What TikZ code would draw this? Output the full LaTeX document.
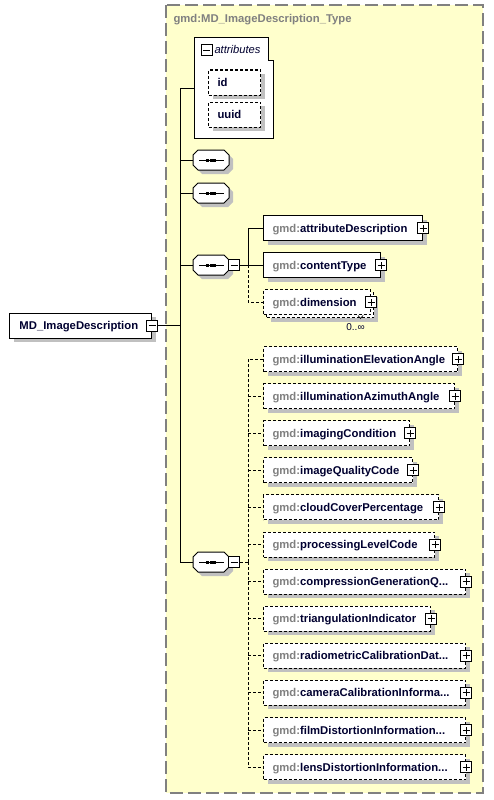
\documentclass[tikz,border=0pt]{standalone}
\usepackage{fontspec}
\setmainfont{Liberation Sans}
\usetikzlibrary{shadows}
\definecolor{bgy}{RGB}{255,255,204}
\definecolor{bordc}{RGB}{128,128,128}
\definecolor{shc}{RGB}{192,192,192}
\definecolor{namec}{RGB}{0,0,48}
\definecolor{prefc}{RGB}{128,128,128}
\newcommand\tx[2]{\makebox[#1pt][l]{\textcolor{prefc}{gmd:}#2}}
\newcommand\seqsym[1]{%
  \begin{scope}[shift={(#1.center)}]
    \fill[shc] (-14,-1) -- (-9,-6) -- (17,-6) -- (22,-1) -- (22,9) -- (17,14) -- (-9,14) -- (-14,9) -- cycle;
    \draw[fill=white] (-18,-5) -- (-13,-10) -- (13,-10) -- (18,-5) -- (18,5) -- (13,10) -- (-13,10) -- (-18,5) -- cycle;
    \draw (-12,0) -- (13,0);
    \fill (-5,-1.5) rectangle (-2,1.5);
    \fill (-1.5,-1.5) rectangle (1.5,1.5);
    \fill (2,-1.5) rectangle (5,1.5);
  \end{scope}}
\begin{document}
\begin{tikzpicture}[x=1pt,y=-1pt,line width=1pt,
  every node/.style={font=\fontsize{11.3}{13}\selectfont\bfseries, text=namec},
  shd/.style={drop shadow={shadow xshift=4pt, shadow yshift=-4pt, fill=shc, opacity=1}},
  dsh/.style={dash pattern=on 3pt off 2pt},
  boxbase/.style={draw, fill=white, minimum height=25pt, inner xsep=9pt, inner ysep=0pt, anchor=west, text height=8pt, text depth=0pt},
  elem/.style={boxbase, shd},
  opt/.style={elem, dsh},
  optns/.style={boxbase, dsh},
  pm/.style={draw, solid, fill=white, minimum size=11pt, inner sep=0pt, line width=1pt},
  plus/.style={pm, path picture={\draw[line width=1pt] ([xshift=-3.5pt]path picture bounding box.center) -- ([xshift=3.5pt]path picture bounding box.center) ([yshift=-3.5pt]path picture bounding box.center) -- ([yshift=3.5pt]path picture bounding box.center);}},
  minus/.style={pm, path picture={\draw[line width=1pt] ([xshift=-3.5pt]path picture bounding box.center) -- ([xshift=3.5pt]path picture bounding box.center);}},
  seqn/.style={minimum width=36pt, minimum height=20pt, inner sep=0pt}
]
\useasboundingbox (0,0) rectangle (493,800);
\fill[white] (0,0) rectangle (493,800);
% type frame
\draw[bordc, fill=bgy, line width=1.3pt, dash pattern=on 13pt off 5pt] (166,5) rectangle (483,793);
\node[anchor=west, text=prefc, inner sep=0pt, text height=8pt, text depth=0pt] (title) at (173,19) {gmd:MD\_ImageDescription\_Type};

% attributes group
\node[minimum width=78pt, minimum height=99pt, inner sep=0pt, anchor=north west] (attrs) at (194,38) {};
\draw[fill=white] (attrs.north west) -- ([xshift=-5pt]attrs.north east) -- ([xshift=-5pt,yshift=-23pt]attrs.north east) -- ([yshift=-23pt]attrs.north east) -- (attrs.south east) -- (attrs.south west) -- cycle;
\node[minus] (am) at (206.5,50.5) {};
\node[anchor=west, inner sep=0pt, font=\fontsize{11.2}{13}\selectfont\itshape, text height=8pt, text depth=0pt] (attrlbl) at (214,50) {attributes};
\node[opt, inner xsep=9pt] (aid) at (208,82.5) {\makebox[34pt][l]{id}};
\node[opt, inner xsep=9pt] (auuid) at (208,114.5) {\makebox[34pt][l]{uuid}};

% root
\node[elem, inner xsep=10pt] (root) at (9,325.5) {\makebox[122pt][l]{MD\_ImageDescription}};
\node[minus] (rm) at (root.east) {};

% sequences
\node[seqn] (s1) at (211,160) {};
\node[seqn] (s2) at (211,193) {};
\node[seqn] (s3) at (211,265) {};
\node[seqn] (s4) at (211,562) {};
\seqsym{s1}\seqsym{s2}\seqsym{s3}\seqsym{s4}
\node[minus] (m3) at (234,265) {};
\node[minus] (m4) at (234,562) {};

% spine
\coordinate (spA) at (180,88);
\draw (rm.east) -- (rm.east -| spA);
\draw (spA) -- (spA -| attrs.west);
\draw (spA) |- (s4.west);
\draw (s1.west) -- (s1.west -| spA);
\draw (s2.west) -- (s2.west -| spA);
\draw (s3.west) -- (s3.west -| spA);

% group 3 children
\node[elem] (c1) at (263,228) {\tx{141}{attributeDescription}};
\node[elem] (c2) at (263,265) {\tx{99}{contentType}};
\node[opt, minimum width=107pt] (c3b) at (266,305) {};
\node[optns] (c3) at (263,302) {\tx{89}{dimension}};
\node[plus] (c1p) at (c1.east) {};
\node[plus] (c2p) at (c2.east) {};
\node[plus] (c3p) at (c3.east) {};
\draw[line width=0.7pt] (358,315.5) -- (360.5,318.5) -- (363,315.5);
\node[font=\fontsize{10}{12}\selectfont, inner sep=0pt] (c3occ) at (355.5,327) {0..∞};
\coordinate (g3) at (248,265);
\draw (m3.east) -- (g3);
\draw (g3) |- (c1.west);
\draw (g3) -- (c2.west);
\draw[dsh] (g3) |- (c3.west);

% group 4 children
\node[opt] (d1) at (263,359) {\tx{176}{illuminationElevationAngle}};
\node[opt] (d2) at (263,396.1) {\tx{173}{illuminationAzimuthAngle}};
\node[opt] (d3) at (263,433.2) {\tx{128}{imagingCondition}};
\node[opt] (d4) at (263,470.3) {\tx{131}{imageQualityCode}};
\node[opt] (d5) at (263,507.4) {\tx{157}{cloudCoverPercentage}};
\node[opt] (d6) at (263,544.5) {\tx{153}{processingLevelCode}};
\node[opt] (d7) at (263,581.6) {\tx{184}{compressionGenerationQ...}};
\node[opt] (d8) at (263,618.7) {\tx{149}{triangulationIndicator}};
\node[opt] (d9) at (263,655.8) {\tx{184}{radiometricCalibrationDat...}};
\node[opt] (d10) at (263,692.9) {\tx{184}{cameraCalibrationInforma...}};
\node[opt] (d11) at (263,730) {\tx{184}{filmDistortionInformation...}};
\node[opt] (d12) at (263,767.1) {\tx{184}{lensDistortionInformation...}};
\foreach \i in {1,...,12} {\node[plus] (d\i p) at (d\i.east) {};}
\coordinate (g4) at (248,562);
\draw[dsh] (m4.east) -- (g4);
\draw[dsh] (g4) |- (d1.west);
\draw[dsh] (g4) |- (d12.west);
\foreach \i in {2,...,11} {\draw[dsh] (d\i.west -| g4) -- (d\i.west);}
\end{tikzpicture}
\end{document}
